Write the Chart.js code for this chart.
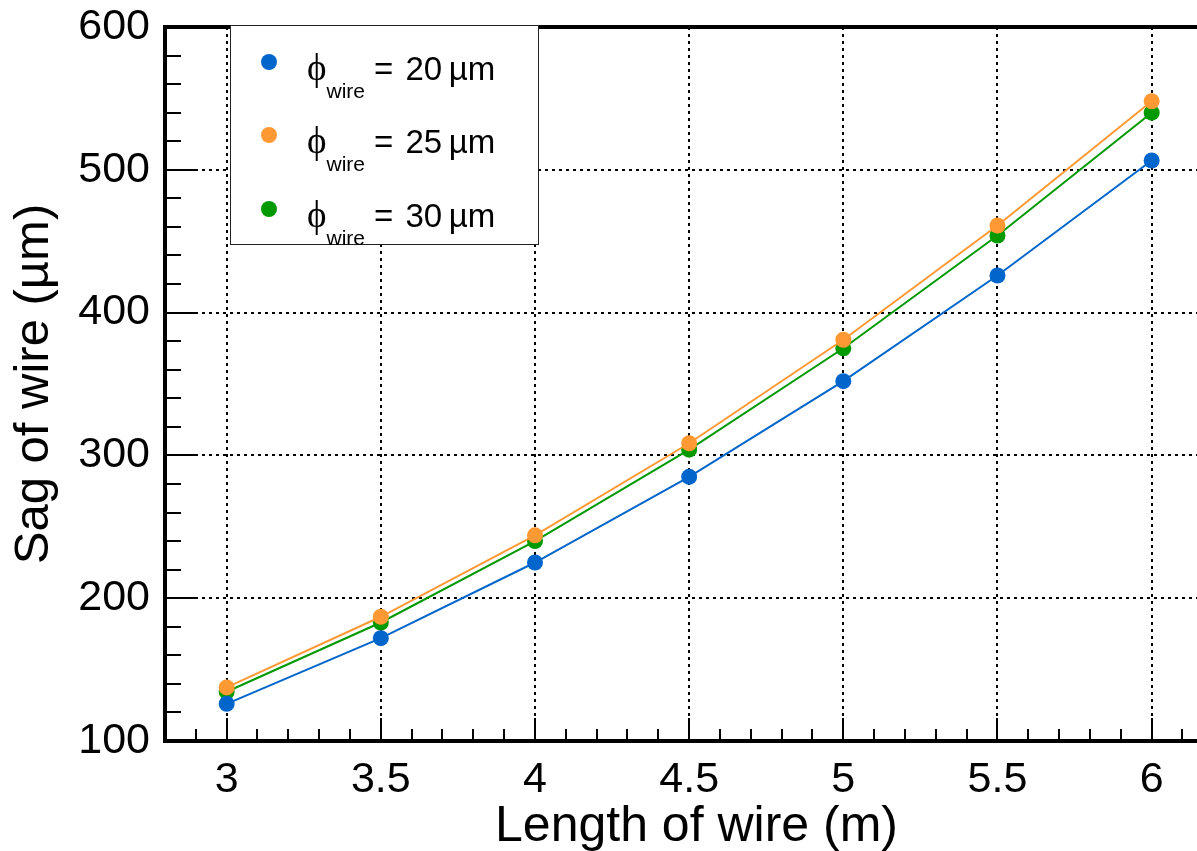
<!DOCTYPE html>
<html>
<head>
<meta charset="utf-8">
<script src="https://cdn.jsdelivr.net/npm/chart.js@4"></script>
<style>
    html, body { margin: 0; padding: 0; background: #fff; overflow: hidden; }
    #wrap { position: relative; width: 1197px; height: 851px; overflow: hidden; }
    #legend {
        position: absolute; left: 230px; top: 25px; width: 307px; height: 218px;
        border: 1.5px solid #222; background: #fff;
        font-family: "Liberation Sans", Arial, sans-serif; color: #000;
    }
    .row { position: absolute; left: 0; height: 40px; line-height: 40px; font-size: 33px; white-space: nowrap; }
    .dot { position: absolute; left: 30px; width: 16px; height: 16px; border-radius: 50%; }
    .txt { position: absolute; left: 76px; top: 0; word-spacing: 3px; }
    .phi { font-family: "Liberation Serif", serif; font-size: 37px; }
    .sub { font-size: 21px; vertical-align: -18px; margin-right: 9px; }
</style>
</head>
<body>
<div id="wrap">
    <!-- the frame runs past the right edge of the picture, as in the original -->
    <canvas id="sagChart" width="1228" height="851"></canvas>
    <div id="legend"></div>
</div>
<script>
/*************************************************
 * Sag of wire vs length of wire                 *
 *************************************************/
const lengths = [3, 3.5, 4, 4.5, 5, 5.5, 6];
const sag20 = [126, 172, 225, 285, 352, 426, 506.5];
const sag25 = [137.5, 187, 244, 308.5, 381, 461, 548];
const sag30 = [134.5, 183, 240, 304, 375, 454, 540];
const diameters = ['20', '25', '30'];
const colors = ['#0066cc', '#ff9933', '#009900'];

const FONT = '"Liberation Sans", Arial, sans-serif';

function toPoints(values) {
    return lengths.map((l, i) => ({x: l, y: values[i]}));
}

// inward pointing tick marks (major + minor), ROOT style
const tickMarks = {
    id: 'tickMarks',
    beforeDatasetsDraw(chart) {
        const {ctx, chartArea: a, scales: {x, y}} = chart;
        ctx.save();
        ctx.strokeStyle = '#000';
        ctx.lineWidth = 2;
        ctx.beginPath();
        for (let i = Math.ceil(x.min * 10); i <= Math.floor(x.max * 10); i++) {
            const px = Math.round(x.getPixelForValue(i / 10));
            const len = i % 5 === 0 ? 23 : 12;
            ctx.moveTo(px, a.bottom);
            ctx.lineTo(px, a.bottom - len);
        }
        for (let v = y.min; v <= y.max; v += 20) {
            const py = Math.round(y.getPixelForValue(v));
            const len = v % 100 === 0 ? 31 : 16;
            ctx.moveTo(a.left, py);
            ctx.lineTo(a.left + len, py);
        }
        ctx.stroke();
        // thick top frame line
        ctx.lineWidth = 4;
        ctx.beginPath();
        ctx.moveTo(a.left - 2, a.top);
        ctx.lineTo(a.right, a.top);
        ctx.stroke();
        ctx.restore();
    }
};

const gridStyle = {
    color: '#000',
    lineWidth: 2,
    drawTicks: false
};

function noPadding(scale) {
    scale.paddingTop = 0;
    scale.paddingBottom = 0;
    scale.paddingLeft = 0;
    scale.paddingRight = 0;
}

const sagChart = new Chart(document.getElementById('sagChart').getContext('2d'), {
    type: 'line',
    data: {
        datasets: [sag20, sag25, sag30].map((vals, i) => ({
            label: 'ϕwire = ' + diameters[i] + ' µm',
            data: toPoints(vals),
            borderColor: colors[i],
            backgroundColor: colors[i],
            borderWidth: 2,
            pointRadius: 8,
            pointBorderWidth: 0,
            pointBackgroundColor: colors[i],
            tension: 0
        }))
    },
    options: {
        responsive: false,
        animation: false,
        layout: {
            autoPadding: false,
            padding: {top: 27, right: 0, left: 0, bottom: 0}
        },
        scales: {
            x: {
                type: 'linear',
                min: 2.8,
                max: 6.2476,
                afterFit: (scale) => { scale.height = 110; noPadding(scale); },
                ticks: {
                    stepSize: 0.5,
                    includeBounds: false,
                    padding: 13,
                    color: '#000',
                    font: {family: FONT, size: 43},
                    callback: (v) => String(Number(v))
                },
                grid: gridStyle,
                border: {display: true, color: '#000', width: 4, dash: [3, 4]},
                title: {
                    display: true,
                    text: 'Length of wire (m)',
                    color: '#000',
                    font: {family: FONT, size: 50, lineHeight: 0.96},
                    padding: {top: 0, bottom: 0}
                }
            },
            y: {
                min: 100,
                max: 600,
                afterFit: (scale) => { scale.width = 165; noPadding(scale); },
                ticks: {
                    stepSize: 100,
                    padding: 15,
                    color: '#000',
                    font: {family: FONT, size: 43}
                },
                grid: gridStyle,
                border: {display: true, color: '#000', width: 4, dash: [3, 4]},
                title: {
                    display: true,
                    text: 'Sag of wire (µm)',
                    color: '#000',
                    font: {family: FONT, size: 49, lineHeight: 1},
                    padding: {top: 10, bottom: 0}
                }
            }
        },
        plugins: {
            legend: {display: false},
            tooltip: {enabled: false}
        }
    },
    plugins: [tickMarks]
});

// legend built from the datasets
const legend = document.getElementById('legend');
const rowTops = [22, 95, 169];
sagChart.data.datasets.forEach((ds, i) => {
    const row = document.createElement('div');
    row.className = 'row';
    row.style.top = rowTops[i] + 'px';
    row.innerHTML =
        '<span class="dot" style="top:6px;background:' + ds.borderColor + '"></span>' +
        '<span class="txt"><span class="phi">ϕ</span><span class="sub">wire</span>= ' +
        diameters[i] + '&thinsp;µm</span>';
    legend.appendChild(row);
});
</script>
</body>
</html>
